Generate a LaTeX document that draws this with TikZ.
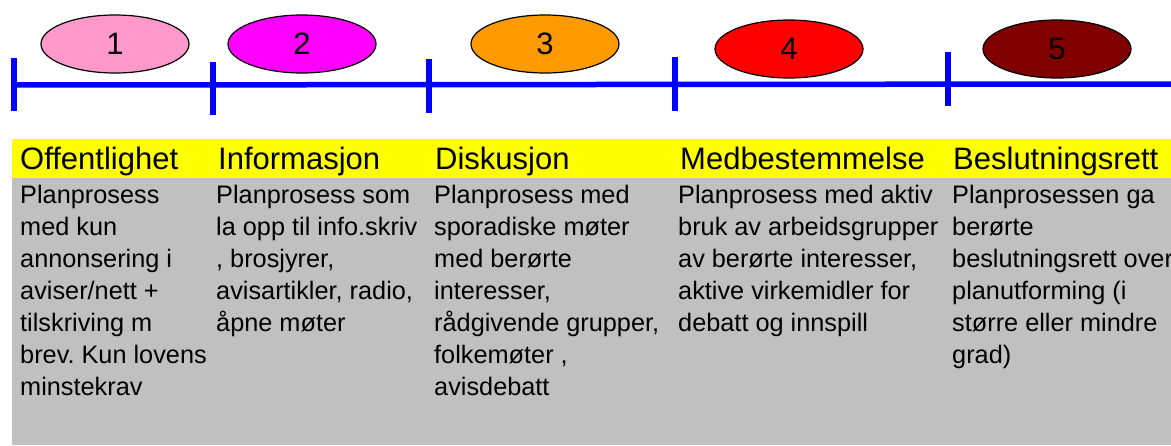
\documentclass[tikz,border=0pt]{standalone}
\usepackage{fontspec}
\setmainfont{Liberation Sans}
\usetikzlibrary{shapes.geometric}
\definecolor{cpink}{HTML}{FF99CC}
\definecolor{cmag}{HTML}{FF00FF}
\definecolor{corange}{HTML}{FF9900}
\definecolor{cred}{HTML}{FF0000}
\definecolor{cdark}{HTML}{800000}
\definecolor{cyel}{HTML}{FFFF00}
\definecolor{cgray}{HTML}{C0C0C0}
\definecolor{cblue}{HTML}{0000FF}
\frenchspacing
\begin{document}
\begin{tikzpicture}[x=1pt,y=-1pt,
  phase/.style={ellipse, draw=black, line width=1.2pt, minimum width=148pt, minimum height=58pt, inner sep=0pt, font=\fontsize{31}{36}\selectfont},
  tick/.style={draw=cblue, line width=6pt},
  axis/.style={draw=cblue, line width=5.5pt},
  head/.style={anchor=base west, inner sep=0pt, font=\fontsize{31}{36}\selectfont},
  body/.style={anchor=base west, inner sep=0pt, font=\fontsize{25.3}{32}\selectfont}
]
\useasboundingbox (0,0) rectangle (1171,445);
\clip (0,0) rectangle (1171,445);
\fill[cyel] (12,139) rectangle (1171,178);
\fill[cgray] (12,178) rectangle (1171,445);
% axis
\coordinate (aL) at (12,85);
\coordinate (aR) at (1171,84);
\draw[axis] (aL) -- (aR);
\coordinate (t1a) at (14,58);  \coordinate (t1b) at (14,111);
\coordinate (t2a) at (213,62); \coordinate (t2b) at (213,115);
\coordinate (t3a) at (429,59); \coordinate (t3b) at (429,113);
\coordinate (t4a) at (675,57); \coordinate (t4b) at (675,111);
\coordinate (t5a) at (948,52); \coordinate (t5b) at (948,106);
\draw[tick] (t1a) -- (t1b);
\draw[tick] (t2a) -- (t2b);
\draw[tick] (t3a) -- (t3b);
\draw[tick] (t4a) -- (t4b);
\draw[tick] (t5a) -- (t5b);
% ellipses
\node[phase, fill=cpink]   (e1) at (115,44) {1};
\node[phase, fill=cmag]    (e2) at (302,44) {2};
\node[phase, fill=corange] (e3) at (545,44) {3};
\node[phase, fill=cred]    (e4) at (789,49) {4};
\node[phase, fill=cdark]   (e5) at (1057,49) {5};
% headers
\node[head] (h1) at (20,169) {Offentlighet};
\node[head] (h2) at (218,169) {Informasjon};
\node[head] (h3) at (435,169) {Diskusjon};
\node[head] (h4) at (680,169) {Medbestemmelse};
\node[head] (h5) at (953,169) {Beslutningsrett};
% bodies
\node[body] (b1) at (20,203) {\begin{tabular}[t]{@{}l@{}}Planprosess\\med kun\\annonsering i\\aviser/nett +\\tilskriving m\\brev. Kun lovens\\minstekrav\end{tabular}};
\node[body] (b2) at (216,203) {\begin{tabular}[t]{@{}l@{}}Planprosess som\\la opp til info.skriv\\, brosjyrer,\\avisartikler, radio,\\åpne møter\end{tabular}};
\node[body] (b3) at (434,203) {\begin{tabular}[t]{@{}l@{}}Planprosess med\\sporadiske møter\\med berørte\\interesser,\\rådgivende grupper,\\folkemøter ,\\avisdebatt\end{tabular}};
\node[body] (b4) at (678,203) {\begin{tabular}[t]{@{}l@{}}Planprosess med aktiv\\bruk av arbeidsgrupper\\av berørte interesser,\\aktive virkemidler for\\debatt og innspill\end{tabular}};
\node[body] (b5) at (952,203) {\begin{tabular}[t]{@{}l@{}}Planprosessen ga\\berørte\\beslutningsrett over\\planutforming (i\\større eller mindre\\grad)\end{tabular}};
\end{tikzpicture}
\end{document}
